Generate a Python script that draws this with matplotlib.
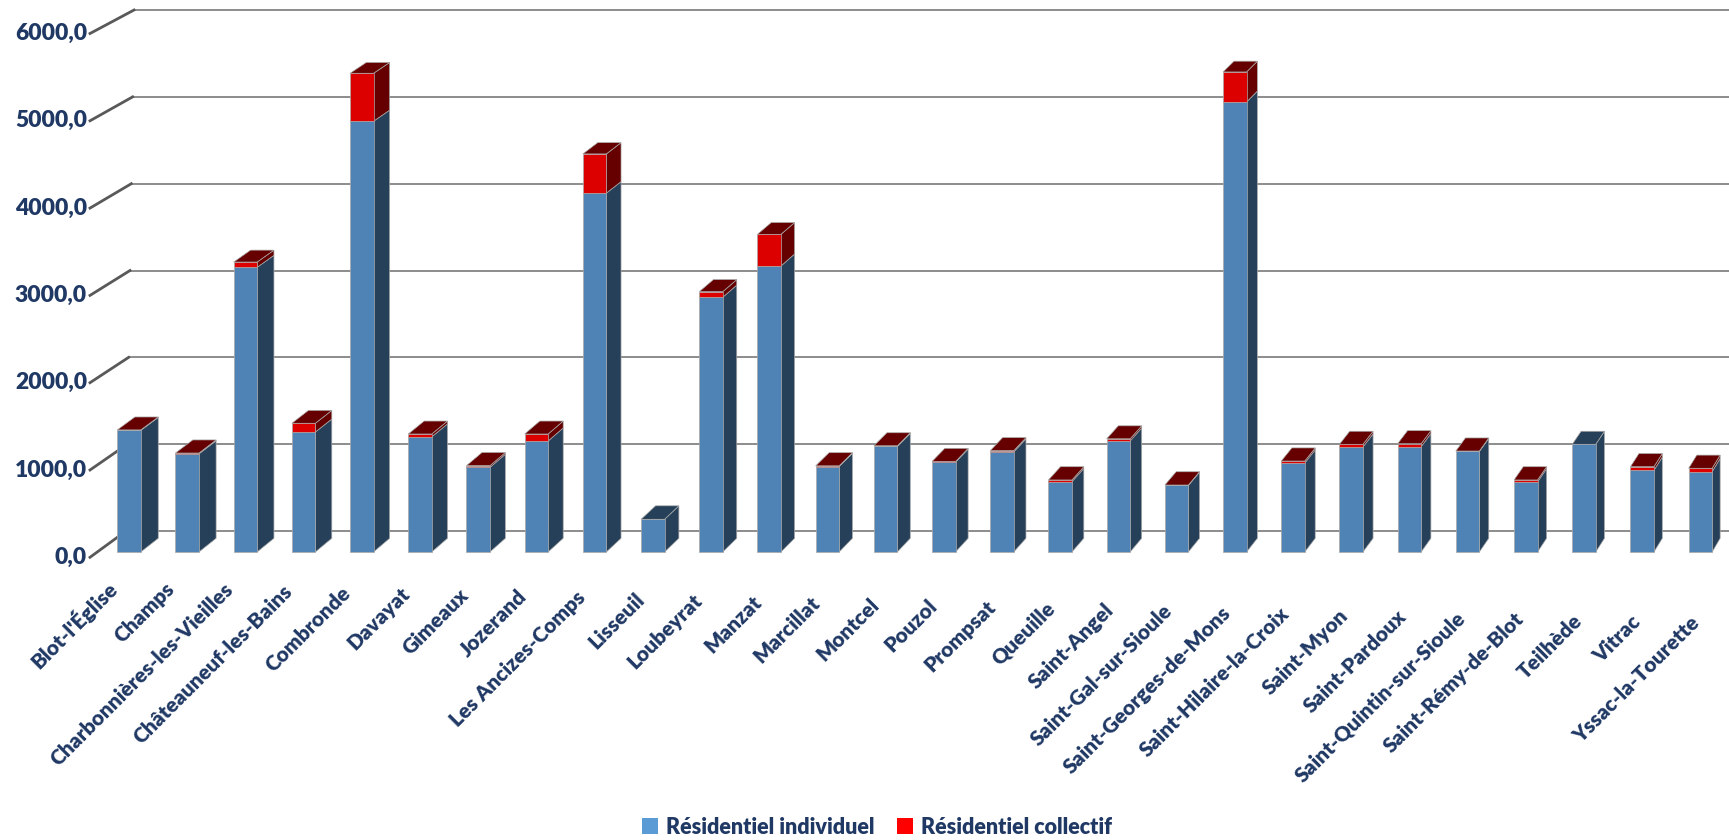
import matplotlib
matplotlib.use("Agg")
import matplotlib.pyplot as plt
from matplotlib.patches import Polygon, Patch

communes = [
    "Blot-l'Église", "Champs", "Charbonnières-les-Vieilles", "Châteauneuf-les-Bains",
    "Combronde", "Davayat", "Gimeaux", "Jozerand", "Les Ancizes-Comps", "Lisseuil",
    "Loubeyrat", "Manzat", "Marcillat", "Montcel", "Pouzol", "Prompsat", "Queuille",
    "Saint-Angel", "Saint-Gal-sur-Sioule", "Saint-Georges-de-Mons",
    "Saint-Hilaire-la-Croix", "Saint-Myon", "Saint-Pardoux", "Saint-Quintin-sur-Sioule",
    "Saint-Rémy-de-Blot", "Teilhède", "Vitrac", "Yssac-la-Tourette",
]
individuel = [1395, 1125, 3265, 1376, 4940, 1320, 970, 1273, 4115, 375,
              2921, 3280, 980, 1210, 1030, 1147, 806, 1273, 763, 5160,
              1020, 1204, 1208, 1153, 803, 1235, 937, 921]
collectif = [5, 10, 60, 100, 550, 33, 20, 80, 450, 0,
             64, 363, 8, 8, 8, 15, 20, 25, 5, 345,
             23, 31, 34, 5, 23, 0, 41, 39]
y_ticks = [0, 1000, 2000, 3000, 4000, 5000, 6000]
series = ["Résidentiel individuel", "Résidentiel collectif"]

NAVY = "#1F3864"
FRONT = ["#4F83B5", "#DD0000"]
DARK = ["#264059", "#660000"]
LEGEND = ["#5B9BD5", "#FF0000"]
FONT = "Lato"
WEIGHT = 800

W, H = 1729, 840
fig = plt.figure(figsize=(W / 100, H / 100), dpi=100)
ax = fig.add_axes([0, 0, 1, 1])
ax.set_axis_off()

# front plane of the columns: pixel layout (measured from the top edge)
X0, PITCH, Y0, SCALE = 129, 58.2, 552, 0.0872
BW = 23.5 / PITCH
ax.set_xlim(-X0 / PITCH, (W - X0) / PITCH)
ax.set_ylim(-(H - Y0) / SCALE, Y0 / SCALE)

# back wall and value-axis plane
WALL_Y0, WALL_SCALE = 531, 0.08683
WALL_X0, WALL_XTOP = 126, 134
LAB_X, LAB_Y0, LAB_SCALE = 90, 557.3, 0.0873

# perspective for column depth
VPX, VPY, K = 3035, -1710, 0.00605

inv = ax.transData.inverted()


def from_px(xp, yp):
    return inv.transform((xp, H - yp))


def to_px(x, v):
    d = ax.transData.transform((x, v))
    return d[0], H - d[1]


def depth(xp, yp):
    return xp + K * (VPX - xp), yp + K * (VPY - yp)


# wall gridlines and the slanted ticks from the labels
for v in y_ticks:
    yb = WALL_Y0 - v * WALL_SCALE
    xb = WALL_X0 + (WALL_XTOP - WALL_X0) * v / y_ticks[-1]
    yl = LAB_Y0 - v * LAB_SCALE
    p0, p1 = from_px(xb, yb), from_px(W, yb)
    ax.plot([p0[0], p1[0]], [p0[1], p1[1]], color="#8C8C8C", lw=1.4, zorder=1,
            solid_capstyle="butt")
    q0 = from_px(LAB_X, yl)
    ax.plot([q0[0], p0[0]], [q0[1], p0[1]], color="#595959", lw=2, zorder=1)
    t = from_px(LAB_X - 3, yl)
    ax.text(t[0], t[1], f"{v:.1f}".replace(".", ","), ha="right", va="center",
            color=NAVY, fontsize=16.5, fontweight=WEIGHT, family=FONT)


def poly(pts_px, color):
    pts = [from_px(x, y) for x, y in pts_px]
    ax.add_patch(Polygon(pts, closed=True, facecolor=color, edgecolor="#A9A9A9",
                         lw=0.5, zorder=2))


n = len(communes)
for i, (a, b) in enumerate(zip(individuel, collectif)):
    segs = [(0, a, 0), (a, a + b, 1)]
    segs = [s for s in segs if s[1] > s[0]]
    for lo, hi, k in segs:
        ax.bar(i, hi - lo, bottom=lo, width=BW, color=FRONT[k],
               edgecolor="#A9A9A9", lw=0.5, zorder=3)
        xr, yb = to_px(i + BW / 2, lo)
        _, yt = to_px(i + BW / 2, hi)
        poly([(xr, yb), (xr, yt), depth(xr, yt), depth(xr, yb)], DARK[k])
    lo, hi, k = segs[-1]
    xl, yt = to_px(i - BW / 2, hi)
    xr, _ = to_px(i + BW / 2, hi)
    poly([(xl, yt), (xr, yt), depth(xr, yt), depth(xl, yt)], DARK[k])

    # category labels follow the slanted front edge of the floor
    cx, _ = to_px(i, 0)
    t = from_px(cx - 16 + 12 * i / (n - 1), 584 + 36 * i / (n - 1))
    ax.text(t[0], t[1], communes[i], rotation=45, rotation_mode="anchor",
            ha="right", va="center", color=NAVY, fontsize=15,
            fontweight=WEIGHT, family=FONT)

handles = [Patch(facecolor=c, label=s) for c, s in zip(LEGEND, series)]
leg = fig.legend(handles=handles, loc="center", ncol=2, frameon=False,
                 bbox_to_anchor=(877 / W, 1 - 827 / H),
                 prop={"family": FONT, "weight": WEIGHT, "size": 15.5},
                 handlelength=0.75, handleheight=0.75, handletextpad=0.4,
                 columnspacing=1.0)
for txt in leg.get_texts():
    txt.set_color(NAVY)

fig.savefig("out.png", dpi=100)
